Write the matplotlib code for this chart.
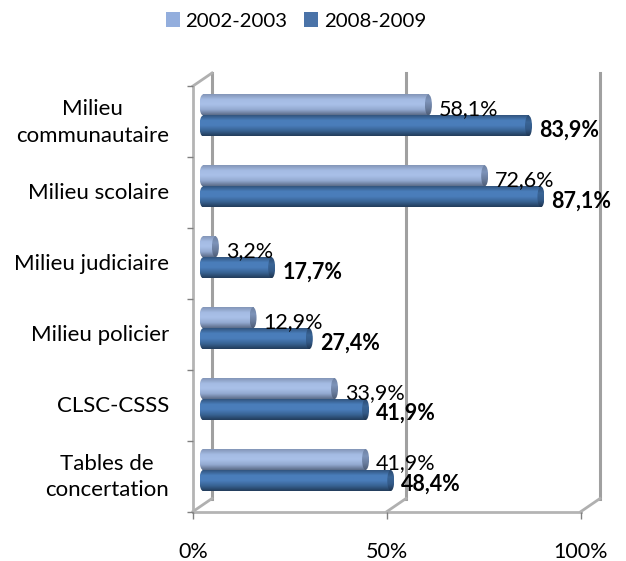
import numpy as np
import matplotlib
matplotlib.use('Agg')
import matplotlib.pyplot as plt
from matplotlib.colors import LinearSegmentedColormap
from matplotlib.markers import TICKLEFT, TICKDOWN
from matplotlib.patches import Ellipse, Patch
from matplotlib.transforms import Affine2D, IdentityTransform

categories = ['Milieu\ncommunautaire', 'Milieu scolaire', 'Milieu judiciaire',
	'Milieu policier', 'CLSC-CSSS', 'Tables de\nconcertation']
series_names = ['2002-2003', '2008-2009']
values_2002 = [58.1, 72.6, 3.2, 12.9, 33.9, 41.9]
values_2008 = [83.9, 87.1, 17.7, 27.4, 41.9, 48.4]
x_ticks = [0, 50, 100]
x_tick_labels = ['0%', '50%', '100%']

plt.rcParams['font.family'] = ['Lato', 'DejaVu Sans']
FS = 15.5
W, H = 626, 561

light = LinearSegmentedColormap.from_list('light', ['#8496b8', '#a4bbe3', '#a9c0e8', '#93a9d0', '#5d6d8a'])
dark = LinearSegmentedColormap.from_list('dark', ['#32557f', '#4a7ebb', '#4a7dba', '#386393', '#233d5c'])
light_cap = LinearSegmentedColormap.from_list('light_cap', ['#6f82a3', '#7d93b9', '#6a7d9e', '#4f5e78'])
dark_cap = LinearSegmentedColormap.from_list('dark_cap', ['#2a4a70', '#3a6597', '#335a88', '#1f3652'])
grad = np.linspace(0, 1, 40).reshape(-1, 1)

top, bottom = -0.5, 5.5
# axes start a little left of 0 so the round bar ends are not clipped
fig = plt.figure(figsize=(W / 100, H / 100), dpi=100)
ax = fig.add_axes([(203 - 2 * 3.88) / W, (H - 505.5) / H, 3.88 * 102 / W, 425.5 / H])
ax.axis('off')
ax.set_xlim(-2, 100)
ax.set_ylim(bottom, top)

t_front = ax.transData + Affine2D().translate(-10, -6)
t_back = ax.transData + Affine2D().translate(9, 7)
bounds = np.arange(-0.5, 6, 1)

def connector(x, y):
	p0 = t_front.transform((x, y))
	p1 = t_back.transform((x, y))
	ax.plot([p0[0], p1[0]], [p0[1], p1[1]], transform=IdentityTransform(), color='#b0b0b0', lw=2, clip_on=False, zorder=1)

# walls behind the bars
for x in x_ticks:
	ax.plot([x, x], [top, bottom], transform=t_back, color='#a0a0a0', lw=2.2, clip_on=False, zorder=1)
	connector(x, bottom)
connector(0, top)

# front axes
ax.plot([0, 0], [top, bottom], transform=t_front, color='#b4b4b4', lw=2, clip_on=False, zorder=1)
ax.plot([0, 100], [bottom, bottom], transform=t_front, color='#b4b4b4', lw=2, clip_on=False, zorder=1)
ax.plot([0] * len(bounds), bounds, transform=t_front, ls='none', marker=TICKLEFT, ms=4.5, mew=1, color='#808080', clip_on=False, zorder=1)
ax.plot(x_ticks, [bottom] * 3, transform=t_front, ls='none', marker=TICKDOWN, ms=5, mew=1, color='#808080', clip_on=False, zorder=1)

bar_h = 0.296
cap = 0.9

def draw_bar(val, y, cmap, cmap_cap):
	y0, y1 = y + bar_h / 2, y - bar_h / 2
	ax.imshow(grad, extent=(0, val, y0, y1), cmap=cmap, aspect='auto', zorder=3, interpolation='bilinear')
	for xc, cm in ((0, cmap), (val, cmap_cap)):
		im = ax.imshow(grad, extent=(xc - cap, xc + cap, y0, y1), cmap=cm, aspect='auto', zorder=3, interpolation='bilinear')
		im.set_clip_path(Ellipse((xc, y), 2 * cap, bar_h, transform=ax.transData))

def pct(v):
	return ('%.1f' % v).replace('.', ',') + '%'

for i in range(len(categories)):
	draw_bar(values_2002[i], i - bar_h / 2, light, light_cap)
	draw_bar(values_2008[i], i + bar_h / 2, dark, dark_cap)
	ax.annotate(pct(values_2002[i]), (values_2002[i], i - bar_h / 2), xytext=(10.5, -4), textcoords='offset pixels',
		fontsize=FS, va='center', ha='left', color='black', zorder=5, annotation_clip=False)
	ax.annotate(pct(values_2008[i]), (values_2008[i], i + bar_h / 2), xytext=(10.5, -4), textcoords='offset pixels',
		fontsize=FS, fontweight='bold', va='center', ha='left', color='black', zorder=5, annotation_clip=False)
	ax.annotate(categories[i], (0, i), xytext=(-34, -7), textcoords='offset pixels',
		fontsize=16, va='center', ha='right', multialignment='center', linespacing=1.4, annotation_clip=False)

for x, lab in zip(x_ticks, x_tick_labels):
	ax.annotate(lab, (x, bottom), xytext=(-10, -46.5), textcoords='offset pixels',
		fontsize=FS, va='center', ha='center', annotation_clip=False)

handles = [Patch(facecolor='#93aedd', label=series_names[0]), Patch(facecolor='#4a73a8', label=series_names[1])]
fig.legend(handles=handles, ncol=2, frameon=False, fontsize=14.7, loc='center', bbox_to_anchor=(296 / W, (H - 21) / H),
	handlelength=0.69, handleheight=0.69, handletextpad=0.27, columnspacing=0.83, borderpad=0)

fig.savefig('out.png', dpi=100)
